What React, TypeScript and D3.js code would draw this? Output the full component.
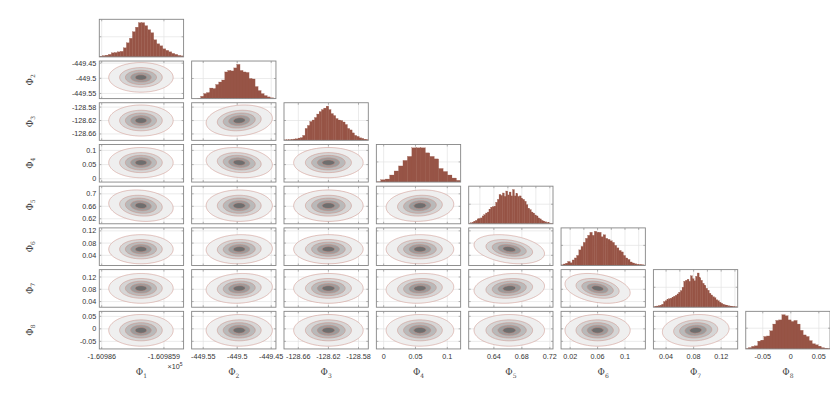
import React, { useMemo } from 'react';
import * as d3 from 'd3';

// variables Φ1..Φ8 (Φ1 is shown in units of 10^5)
const names = ['1', '2', '3', '4', '5', '6', '7', '8'];

const domains: [number, number][] = [
  [-1.6098600385, -1.6098586838],
  [-449.567, -449.443],
  [-128.679, -128.567],
  [-0.0115, 0.121],
  [0.604, 0.7245],
  [0.0067, 0.1297],
  [0.0216, 0.144],
  [-0.0804, 0.07],
];

const xTicks: number[][] = [
  [-1.60986, -1.609859],
  [-449.55, -449.5, -449.45],
  [-128.66, -128.62, -128.58],
  [0, 0.05, 0.1],
  [0.64, 0.68, 0.72],
  [0.02, 0.06, 0.1],
  [0.04, 0.08, 0.12],
  [-0.05, 0, 0.05],
];
const xTickLabels: (string[] | null)[] = [['-1.60986', '-1.609859'], null, null, null, null, null, null, null];

const yTicks: number[][] = [
  [],
  [-449.55, -449.5, -449.45],
  [-128.66, -128.62, -128.58],
  [0, 0.05, 0.1],
  [0.62, 0.66, 0.7],
  [0.04, 0.08, 0.12],
  [0.04, 0.08, 0.12],
  [-0.05, 0, 0.05],
];

const histGrid: number[][] = [
  [-1.60986, -1.609859],
  [-449.55, -449.5, -449.45],
  [-128.66, -128.62, -128.58],
  [0, 0.05, 0.1],
  [0.62, 0.64, 0.66, 0.68, 0.7, 0.72],
  [0.02, 0.04, 0.06, 0.08, 0.1, 0.12],
  [0.04, 0.06, 0.08, 0.1, 0.12, 0.14],
  [-0.05, 0, 0.05],
];

// marginal histogram counts (bins span each variable's axis range)
const hist1 = [0.7, 1.2, 1.7, 2.5, 4, 4.3, 5, 5.5, 9, 14, 18.5, 25, 29.5, 34, 34, 31, 27, 24, 17, 13, 11, 8, 6.5, 5, 3.5, 2.5, 1.5, 1];
const hist2 = [0, 0, 0.5, 2.3, 5, 6, 10.5, 10, 14, 16.5, 18.5, 26.5, 28, 27.5, 30.5, 34, 28, 26.5, 26, 20, 19.5, 12, 8, 5, 3, 1.7, 0.8, 0.5];
const hist3 = [0.5, 0.5, 0.7, 1, 1.3, 1.5, 2.3, 2.7, 5, 12, 15, 19, 20.5, 23, 26.5, 29, 31, 32.5, 34.5, 31, 27, 25, 22, 20.5, 20, 18.5, 16, 12, 10.5, 7.5, 5, 4, 2.5, 2, 1.2, 0.8];
const hist4 = [0.3, 2.3, 3, 7, 11, 16, 21.5, 25.5, 34, 34, 34, 29, 25.5, 23, 13.5, 10.5, 7, 4, 1.7];
const hist5 = [0.7, 1, 1.5, 2.7, 3.5, 5, 5.5, 6, 8, 9.3, 11, 12, 15, 17, 17.5, 18, 22, 25, 30, 29, 31.5, 28, 33.5, 29.5, 32.5, 28.5, 35, 28.5, 31, 28, 28.5, 26, 25, 23, 19.5, 16, 14.5, 12, 11, 9, 8, 6, 5, 3.5, 2.7, 2, 1.3, 1, 0.7, 0.5];
const hist6 = [0.7, 1.5, 2.3, 4, 2.7, 5.5, 7.5, 10, 15.5, 19, 23, 27, 30, 33, 30, 34, 33, 33, 28.5, 30.5, 27, 26, 24.5, 23, 20, 17.5, 15, 13.5, 10, 7.5, 6, 3.5, 2.5, 1.7, 1.2, 1, 0.8, 0.5];
const hist7 = [0.7, 1, 1.2, 1.7, 2, 3, 5.7, 6.5, 7.7, 8.5, 9, 10, 11, 12, 13.3, 15, 16.7, 20, 26, 27, 28, 26, 31.5, 28.5, 26.5, 31, 34.3, 29.5, 27, 24, 22, 19, 17, 14, 12.3, 10.5, 9.5, 7.5, 6.5, 5, 4, 3, 2.3, 2, 1.5, 1.2, 1, 0.8, 0.5, 0.3];
const hist8 = [0.3, 1.3, 2.5, 3, 7.5, 8.5, 12, 12.5, 17.5, 24, 27.5, 28, 33, 32, 28, 26.5, 27.5, 24, 18, 13.5, 12, 8, 5, 4, 2.7, 1.2, 0.7, 0.3];
const hists = [hist1, hist2, hist3, hist4, hist5, hist6, hist7, hist8];

// centre and spread of each posterior
const means = [-1.6098593692, -449.497, -128.62, 0.057, 0.662, 0.06, 0.083, -0.006];
const sds = [1.85e-7, 0.0174, 0.0165, 0.019, 0.018, 0.017, 0.0173, 0.0226];
// correlations, row Φ2..Φ8 against Φ1..
const corr: number[][] = [
  [0],
  [0, 0.15],
  [0, -0.15, 0],
  [-0.15, 0, 0, 0.1],
  [0, 0.05, 0, 0, -0.3],
  [0, 0.1, 0, 0.1, 0.15, -0.3],
  [0, 0, 0, 0, 0, 0, 0.1],
];

const levels = [0.02, 0.18, 0.4, 0.67, 0.88];
const fills = ['#efefef', '#d5d5d5', '#b9b9b9', '#9b9b9b', '#6e6e6e'];

const W = 830;
const H = 397;
const left0 = 99.3;
const colStep = 92.35;
const pw = 84.3;
const top0 = 19.3;
const rowStep = 41.72;
const ph = 37.6;
const barColor = '#975446';
const boxColor = '#858585';
const gridColor = '#e3e3e3';
const textColor = '#333';
const font = '"Liberation Sans", Arial, sans-serif';

const Phi = ({ x, y, sub, rotate }: { x: number; y: number; sub: string; rotate?: boolean }) => (
  <text
    x={x}
    y={y}
    transform={rotate ? `rotate(-90,${x},${y})` : undefined}
    textAnchor="middle"
    fontFamily='"DejaVu Serif", "Liberation Serif", serif'
    fontSize={9}
    fill="#444"
  >
    Φ<tspan fontSize={6} dy={2.5}>{sub}</tspan>
  </text>
);

const App = () => {
  const xs = useMemo(
    () => domains.map((d, i) => d3.scaleLinear().domain(d).range([left0 + i * colStep, left0 + i * colStep + pw])),
    []
  );
  const ys = useMemo(
    () => domains.map((d, i) => d3.scaleLinear().domain(d).range([top0 + i * rowStep + ph, top0 + i * rowStep])),
    []
  );

  const panels: JSX.Element[] = [];

  for (let r = 0; r < 8; r++) {
    for (let c = 0; c <= r; c++) {
      const x0 = left0 + c * colStep;
      const y0 = top0 + r * rowStep;
      const xS = xs[c];
      const clipId = `clip-${r}-${c}`;
      const content: JSX.Element[] = [];

      if (r === c) {
        const counts = hists[c];
        const [d0, d1] = domains[c];
        const bw = (d1 - d0) / counts.length;
        const hy = d3.scaleLinear().domain([0, d3.max(counts)! / 0.91]).range([y0 + ph, y0]);
        histGrid[c].forEach((t, k) => (
          content.push(<line key={`gx${k}`} x1={xS(t)} x2={xS(t)} y1={y0} y2={y0 + ph} stroke={gridColor} strokeWidth={0.7} />)
        ));
        hy.ticks(2).filter((t) => t > 0).forEach((t, k) =>
          content.push(<line key={`gy${k}`} x1={x0} x2={x0 + pw} y1={hy(t)} y2={hy(t)} stroke={gridColor} strokeWidth={0.7} />)
        );
        counts.forEach((v, k) => {
          const a = xS(d0 + k * bw);
          const b = xS(d0 + (k + 1) * bw);
          content.push(
            <rect key={`b${k}`} x={a} y={hy(v)} width={b - a + 0.2} height={y0 + ph - hy(v)} fill={barColor} stroke={barColor} strokeWidth={0.25} />
          );
        });
        hy.ticks(2).filter((t) => t > 0).forEach((t, k) => {
          content.push(<line key={`tl${k}`} x1={x0} x2={x0 + 2} y1={hy(t)} y2={hy(t)} stroke={boxColor} strokeWidth={0.6} />);
          content.push(<line key={`tr${k}`} x1={x0 + pw - 2} x2={x0 + pw} y1={hy(t)} y2={hy(t)} stroke={boxColor} strokeWidth={0.6} />);
        });
        histGrid[c].forEach((t, k) =>
          content.push(<line key={`tt${k}`} x1={xS(t)} x2={xS(t)} y1={y0} y2={y0 + 2} stroke={boxColor} strokeWidth={0.6} />)
        );
      } else {
        const yS = ys[r];
        const rho = corr[r - 1][c];
        const nx = Math.ceil(pw) + 1;
        const ny = Math.ceil(ph) + 1;
        const values = new Array(nx * ny);
        for (let l = 0; l < ny; l++) {
          for (let k = 0; k < nx; k++) {
            const zx = (xS.invert(x0 + k) - means[c]) / sds[c];
            const zy = (yS.invert(y0 + l) - means[r]) / sds[r];
            const q = (zx * zx - 2 * rho * zx * zy + zy * zy) / (1 - rho * rho);
            values[l * nx + k] = Math.exp(-q / 2);
          }
        }
        const contours = d3.contours().size([nx, ny]).thresholds(levels)(values);
        const path = d3.geoPath();
        xTicks[c].forEach((t, k) =>
          content.push(<line key={`gx${k}`} x1={xS(t)} x2={xS(t)} y1={y0} y2={y0 + ph} stroke={gridColor} strokeWidth={0.7} />)
        );
        yTicks[r].forEach((t, k) =>
          content.push(<line key={`gy${k}`} x1={x0} x2={x0 + pw} y1={yS(t)} y2={yS(t)} stroke={gridColor} strokeWidth={0.7} />)
        );
        content.push(
          <g key="cont" transform={`translate(${x0 - 0.5},${y0 - 0.5})`}>
            {contours.map((cn, k) => (
              <path key={k} d={path(cn as any) || ''} fill={fills[k]} stroke="#c98a80" strokeWidth={0.5} />
            ))}
          </g>
        );
        yTicks[r].forEach((t, k) => {
          content.push(<line key={`tl${k}`} x1={x0} x2={x0 + 2} y1={yS(t)} y2={yS(t)} stroke={boxColor} strokeWidth={0.6} />);
          content.push(<line key={`tr${k}`} x1={x0 + pw - 2} x2={x0 + pw} y1={yS(t)} y2={yS(t)} stroke={boxColor} strokeWidth={0.6} />);
        });
        xTicks[c].forEach((t, k) => {
          content.push(<line key={`tt${k}`} x1={xS(t)} x2={xS(t)} y1={y0} y2={y0 + 2} stroke={boxColor} strokeWidth={0.6} />);
          content.push(<line key={`tb${k}`} x1={xS(t)} x2={xS(t)} y1={y0 + ph - 2} y2={y0 + ph} stroke={boxColor} strokeWidth={0.6} />);
        });
      }

      panels.push(
        <g key={`p-${r}-${c}`}>
          <clipPath id={clipId}>
            <rect x={x0} y={y0} width={pw} height={ph} />
          </clipPath>
          <g clipPath={`url(#${clipId})`}>{content}</g>
          <rect x={x0} y={y0} width={pw} height={ph} fill="none" stroke={boxColor} strokeWidth={0.9} />
        </g>
      );
    }
  }

  // tick labels
  const labels: JSX.Element[] = [];
  for (let r = 1; r < 8; r++) {
    yTicks[r].forEach((t, k) =>
      labels.push(
        <text key={`yl${r}-${k}`} x={left0 - 3} y={ys[r](t)} dy="0.35em" textAnchor="end" fontSize={7.2} fontFamily={font} fill={textColor}>
          {String(t)}
        </text>
      )
    );
  }
  const yBottom = top0 + 7 * rowStep + ph;
  for (let c = 0; c < 8; c++) {
    xTicks[c].forEach((t, k) =>
      labels.push(
        <text key={`xl${c}-${k}`} x={xs[c](t)} y={yBottom + 10} textAnchor="middle" fontSize={7.2} fontFamily={font} fill={textColor}>
          {xTickLabels[c] ? xTickLabels[c]![k] : String(t)}
        </text>
      )
    );
  }

  return (
    <svg width={W} height={H} style={{ position: 'absolute', left: 0, top: 0, background: '#fff' }}>
      {panels}
      {labels}
      <text x={175} y={369} textAnchor="middle" fontSize={7.2} fontFamily={font} fill={textColor}>
        ×10<tspan fontSize={5} dy={-3}>5</tspan>
      </text>
      {names.map((n, i) => (
        <Phi key={`xn${i}`} x={left0 + i * colStep + pw / 2} y={375} sub={n} />
      ))}
      {names.slice(1).map((n, i) => (
        <Phi key={`yn${i}`} x={33} y={top0 + (i + 1) * rowStep + ph / 2} sub={n} rotate />
      ))}
    </svg>
  );
};

export default App;
